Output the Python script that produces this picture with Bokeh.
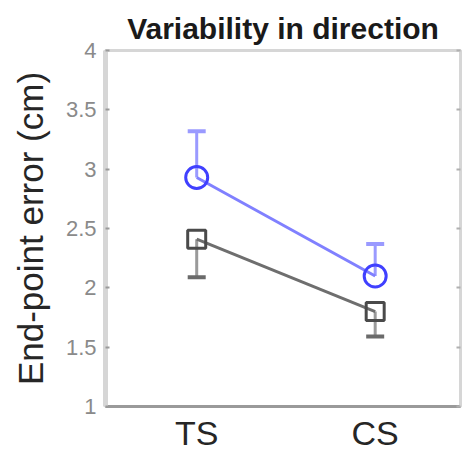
from bokeh.plotting import figure
from bokeh.models import Range1d, FixedTicker, LinearAxis, CustomLabelingPolicy
from bokeh.embed import file_html
from bokeh.resources import INLINE

# Data
categories = ["TS", "CS"]
x_pos = [1, 2]
blue_mean = [2.93, 2.10]
blue_upper = [3.32, 2.37]
gray_mean = [2.41, 1.80]
gray_lower = [2.09, 1.59]
y_ticks = [1, 1.5, 2, 2.5, 3, 3.5, 4]
y_tick_labels = ["1", "1.5", "2", "2.5", "3", "3.5", "4"]

FONT = "Liberation Sans"

p = figure(width=464, height=454, output_backend="svg", toolbar_location=None,
           x_range=Range1d(0.489, 2.478), y_range=Range1d(1, 4),
           min_border_left=105, min_border_right=1, min_border_top=50, min_border_bottom=0,
           title="Variability in direction")
p.background_fill_color = "white"
p.border_fill_color = "white"
p.outline_line_color = "#d6d6d6"
p.outline_line_width = 3
p.xgrid.visible = False
p.ygrid.visible = False

p.title.align = "center"
p.title.text_font = FONT
p.title.text_font_size = "30px"
p.title.text_font_style = "bold"
p.title.text_color = "#1a1a1a"
p.title.standoff = 11

# x axis
xa = p.xaxis[0]
xa.ticker = FixedTicker(ticks=x_pos)
xa.major_label_overrides = {x: c for x, c in zip(x_pos, categories)}
xa.major_label_text_font = FONT
xa.major_label_text_font_size = "34px"
xa.major_label_text_color = "#262626"
xa.major_label_standoff = 7
xa.major_tick_in = 0
xa.major_tick_out = 0
xa.minor_tick_line_color = None
xa.axis_line_color = "#9a9a9a"
xa.axis_line_width = 3

# y axis
ya = p.yaxis[0]
ya.ticker = FixedTicker(ticks=y_ticks)
ya.major_label_overrides = {t: l for t, l in zip(y_ticks, y_tick_labels)}
ya.major_label_text_font = FONT
ya.major_label_text_font_size = "22px"
ya.major_label_text_color = "#8a8a8a"
ya.major_label_standoff = 9
ya.major_tick_in = 4
ya.major_tick_out = 0
ya.major_tick_line_color = "#9a9a9a"
ya.major_tick_line_width = 2
ya.minor_tick_line_color = None
ya.axis_line_color = "#d6d6d6"
ya.axis_line_width = 5
ya.axis_label = "End-point error (cm)"
ya.axis_label_text_font = FONT
ya.axis_label_text_font_size = "35px"
ya.axis_label_text_font_style = "normal"
ya.axis_label_text_color = "#262626"
ya.axis_label_standoff = 13

# right axis (ticks only, no labels)
ra = LinearAxis(ticker=FixedTicker(ticks=y_ticks))
ra.major_label_policy = CustomLabelingPolicy(
    code="for (const i of Array.from(indices)) { indices.unset(i) }; return indices")
ra.major_label_text_font_size = "1px"
ra.major_label_standoff = 0
ra.major_tick_in = 4
ra.major_tick_out = 0
ra.major_tick_line_color = "#b0b0b0"
ra.major_tick_line_width = 2
ra.minor_tick_line_color = None
ra.axis_line_color = "#d6d6d6"
ra.axis_line_width = 2
p.add_layout(ra, "right")

blue_line = "#8080ff"
blue_mark = "#4040ff"
gray_line = "#6e6e6e"
gray_mark = "#4a4a4a"

# error bars
p.segment(x0=x_pos, y0=blue_mean, x1=x_pos, y1=blue_upper, line_color="#9a9aff", line_width=3)
p.scatter(x=x_pos, y=blue_upper, marker="dash", size=18, line_color="#9a9aff", line_width=4)
p.segment(x0=x_pos, y0=gray_mean, x1=x_pos, y1=gray_lower, line_color="#9a9a9a", line_width=3)
p.scatter(x=x_pos, y=gray_lower, marker="dash", size=18, line_color="#6a6a6a", line_width=4)

# lines
p.line(x=x_pos, y=blue_mean, line_color=blue_line, line_width=3)
p.line(x=x_pos, y=gray_mean, line_color=gray_line, line_width=3)

# markers
p.scatter(x=x_pos, y=blue_mean, marker="circle", size=22, line_color=blue_mark, line_width=3, fill_color=None)
p.scatter(x=x_pos, y=gray_mean, marker="square", size=18, line_color=gray_mark, line_width=3, fill_color=None)

open("out.html", "w").write(file_html(p, INLINE))
